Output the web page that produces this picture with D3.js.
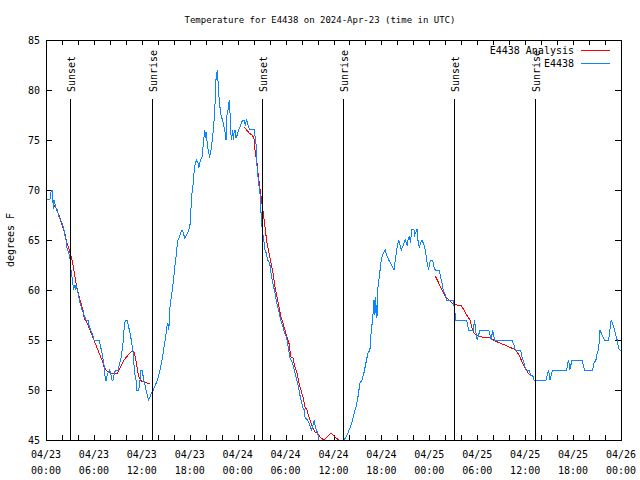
<!DOCTYPE html>
<html><head><meta charset="utf-8">
<script src="https://cdn.jsdelivr.net/npm/d3@7"></script>
<style>body{margin:0;background:#fff} svg{display:block}</style>
</head><body><svg id="c" width="640" height="480"></svg>
<script>
// hours since 2024-04-23 00:00 UTC, temperature in degrees F
const observed = [[0,69.1],[0.5,69.1],[0.66,70],[0.81,70],[0.91,68.1],[1.0,69],[1.25,68.2],[1.41,68],[1.67,67.2],[1.84,67],[2.09,66.5],[2.25,66],[2.34,65.5],[2.5,65],[2.67,64],[2.84,63.8],[3.0,63.2],[3.09,62.3],[3.17,61.7],[3.34,61],[3.42,60],[3.59,60.5],[3.67,60],[3.76,60.5],[3.92,60],[4.09,59.5],[4.17,59],[4.34,58.5],[4.51,58],[4.67,58],[4.76,57.5],[5.01,57],[5.26,57],[5.42,56.3],[5.6,56],[5.76,55.7],[5.92,55.3],[6.01,55],[6.67,55],[6.85,54.3],[7.01,53.7],[7.17,53],[7.35,52],[7.42,51],[7.57,51],[7.67,51.5],[7.93,52],[8.1,51.7],[8.26,51],[8.39,51],[8.6,51.8],[8.76,52],[9.01,52],[9.1,52.3],[9.35,53],[9.6,54.3],[9.77,56],[9.93,57],[10.18,57],[10.35,56.3],[10.52,55.7],[10.68,55],[10.85,54],[10.93,53.7],[11.02,52.5],[11.11,51.7],[11.27,51],[11.36,50],[11.61,50],[11.77,51],[11.86,52],[12.11,52],[12.18,51],[12.36,50.7],[12.52,50],[12.68,49.5],[12.86,49],[13.02,49.3],[13.18,49.7],[13.36,49.8],[13.52,50.2],[13.86,50.8],[14.02,51.2],[14.18,51.7],[14.36,52.3],[14.52,53],[14.69,53.8],[14.86,54.7],[15.02,55.5],[15.11,56.3],[15.27,56.7],[15.36,56],[15.44,56.8],[15.52,58.2],[15.69,59.3],[15.86,60.3],[15.94,60.8],[16.11,62.2],[16.28,63.3],[16.36,64],[16.53,65],[16.69,65.3],[16.86,65.7],[17.03,66],[17.19,65.7],[17.37,65.2],[17.62,65.5],[17.87,66],[18.03,66.5],[18.12,67.7],[18.28,69.7],[18.44,70.7],[18.53,71.7],[18.69,72.7],[18.87,73],[19.03,72.7],[19.12,72.2],[19.28,72.8],[19.53,73.3],[19.62,74],[19.87,76],[20.03,75.2],[20.12,75.8],[20.19,74.3],[20.37,74],[20.45,73.2],[20.62,73.7],[20.78,74.7],[20.95,76],[21.12,77.7],[21.2,79.3],[21.28,81],[21.45,82],[21.53,81],[21.62,79.7],[21.78,78.3],[21.95,77.3],[22.12,77],[22.29,76.3],[22.45,75.7],[22.54,75],[22.62,77.3],[22.79,78],[22.95,79],[23.04,77.7],[23.12,76.3],[23.2,75],[23.38,76],[23.45,75],[23.54,75.7],[23.7,76],[23.79,75.2],[23.95,75.5],[24.13,76],[24.29,76.3],[24.45,76.7],[24.63,77],[24.79,77],[24.95,76.5],[25.13,77],[25.29,76.5],[25.45,76.1],[26.04,76.1],[26.13,75.7],[26.29,74.7],[26.38,73],[26.45,72],[26.63,70.7],[26.79,69.7],[26.88,68.3],[26.96,67.3],[27.08,66],[27.26,65],[27.42,64],[27.58,63.7],[27.76,63],[28.01,62.7],[28.17,61.7],[28.33,61],[28.51,60.3],[28.67,59.7],[28.83,59],[29.01,58.3],[29.17,57.8],[29.33,57.2],[29.51,56.7],[29.67,56.3],[29.83,55.8],[30.01,55.5],[30.17,55],[30.34,54.3],[30.51,53.3],[30.67,53],[30.84,52.7],[31.01,52.3],[31.17,51.7],[31.34,51.2],[31.51,50.7],[31.68,50],[31.84,49.3],[32.01,48.7],[32.18,48.2],[32.34,48],[32.43,47.3],[32.59,47.1],[32.76,47],[32.93,46.7],[33.09,46.3],[33.27,46],[33.43,46.5],[33.59,47],[33.68,46.5],[33.84,46],[34.02,45.7],[34.18,45],[34.56,44.3],[35.06,43.8],[35.56,43.6],[36.06,43.8],[36.56,44.2],[37.06,44.7],[37.31,45],[37.56,45.3],[37.81,45.7],[38.06,46.2],[38.31,46.8],[38.56,47.6],[38.81,48.3],[39.06,49.3],[39.31,50.7],[39.56,51],[39.81,51.7],[40.06,52.7],[40.31,53.7],[40.56,54],[40.73,56],[40.9,57],[41.07,59],[41.19,57.5],[41.28,59.3],[41.35,58],[41.44,57.2],[41.53,59],[41.57,60.3],[41.73,61.3],[41.98,63],[42.23,63.7],[42.48,64],[42.66,63.5],[42.91,63],[43.16,62.7],[43.41,62.3],[43.57,62],[43.73,63],[43.91,64],[44.07,64.7],[44.16,65],[44.32,64.5],[44.48,64],[44.66,64.3],[44.82,64.7],[44.98,65],[45.23,64.5],[45.32,65],[45.49,65.3],[45.66,64.7],[45.74,65.7],[45.82,66.1],[46.07,66.1],[46.16,65.5],[46.32,65.8],[46.49,66.1],[46.57,65],[46.74,64.3],[46.91,64.7],[47.08,65],[47.33,64.5],[47.49,64],[47.67,63],[47.83,62.3],[47.92,62],[47.99,62.5],[48.16,63],[48.41,63],[48.58,62.3],[48.74,62],[49.24,62],[49.42,61.3],[49.58,60.7],[49.74,60],[49.92,59.7],[50.17,59],[50.99,59],[51.08,58.5],[51.33,57],[52.67,57],[52.92,56],[53.5,56],[53.67,57],[53.84,55.7],[54.0,55],[54.17,55.5],[54.34,56],[55.43,56],[55.59,55.5],[55.75,55],[55.93,56],[56.18,55],[58.34,55],[58.59,54.5],[58.76,54],[59.43,54],[59.6,53.3],[59.85,52.7],[60.1,52],[60.51,52],[60.68,51.5],[60.93,51.5],[61.1,51],[62.6,51],[62.76,51.5],[62.94,52],[63.1,51],[63.26,51.5],[63.44,52],[65.19,52],[65.35,52.7],[65.44,53],[65.6,52],[65.86,53],[67.11,53],[67.27,52.5],[67.44,52],[68.44,52],[68.61,52.7],[68.86,53],[69.02,53.7],[69.2,54],[69.36,56],[69.52,55.7],[69.77,55.3],[69.94,55],[70.45,55],[70.61,56],[70.77,57],[70.94,56.7],[71.11,56.2],[71.27,55.7],[71.52,55],[71.69,54.2],[71.86,54],[72.0,54]];

const analysis1 = [[0.75,69],[1.0,68.5],[1.25,68.2],[1.5,67.7],[1.75,67.2],[2.09,66.3],[2.34,65.7],[2.59,64.8],[2.84,64.2],[3.09,63.5],[3.34,62.7],[3.59,61.5],[3.84,60.3],[4.09,59.5],[4.34,58.8],[4.59,58],[4.85,57],[5.1,56.8],[5.35,56.3],[5.6,55.8],[5.85,55.3],[6.1,54.8],[6.35,54.3],[6.6,53.8],[6.85,53.3],[7.1,52.8],[7.26,52.3],[7.51,52],[7.76,51.8],[8.1,51.7],[8.51,51.7],[8.93,51.7],[9.35,52.3],[9.77,53],[10.18,53.4],[10.52,53.7],[10.85,53.9],[11.02,53.8],[11.18,53.3],[11.36,52.5],[11.52,51.7],[11.68,51.2],[11.93,50.9],[12.27,50.8],[12.68,50.7],[13.02,50.6]];
const analysis2 = [[24.79,76.3],[25.13,76],[25.45,75.7],[25.79,75.5],[26.04,75.2],[26.13,74.3],[26.29,73.3],[26.42,72.7],[26.54,71.7],[26.7,70.7],[26.86,69.7],[27.04,68.7],[27.21,67.7],[27.36,66.7],[27.51,65.7],[27.67,64.7],[27.92,63.7],[28.17,62.7],[28.42,61.7],[28.67,60.3],[28.92,59.3],[29.17,58.3],[29.42,57.3],[29.67,56.7],[29.92,56],[30.17,55.3],[30.42,54.7],[30.67,53.3],[30.92,53.2],[31.17,52.3],[31.43,51.7],[31.68,50.7],[31.93,50],[32.18,49.3],[32.43,48.3],[32.68,48],[32.93,47.3],[33.18,46.7],[33.43,46.2],[33.68,45.8],[33.97,45.7],[34.3,45.3],[34.81,45],[35.22,45.3],[35.72,45.7],[36.15,45.3],[36.65,45]];
const analysis3 = [[48.74,61.4],[49.17,60.7],[49.58,60],[49.99,59.4],[50.42,59],[50.83,58.7],[51.17,58.6],[51.5,58.5],[51.92,58.5],[52.33,58],[52.67,57.5],[52.92,57.2],[53.08,57],[53.25,56.5],[53.42,56],[53.59,55.7],[53.84,55.5],[54.17,55.4],[54.59,55.3],[55.0,55.3],[55.59,55.2],[56.25,54.9],[56.84,54.7],[57.43,54.5],[58.0,54.3],[58.59,54.1],[59.01,53.8],[59.34,53.3],[59.68,52.7],[60.01,52.2],[60.35,51.7],[60.6,51.5],[60.85,51.4]];

const sunHours = [3.04, 13.31, 27.08, 37.23, 51.13, 61.27];
const sunLabels = ["Sunset", "Sunrise", "Sunset", "Sunrise", "Sunset", "Sunrise"];
const yTicks = [45, 50, 55, 60, 65, 70, 75, 80, 85];
const xTickHours = [0, 6, 12, 18, 24, 30, 36, 42, 48, 54, 60, 66, 72];
const xMinorHours = d3.range(0, 73, 2);
const startTime = Date.UTC(2024, 3, 23, 0, 0);
const titleText = "Temperature for E4438 on 2024-Apr-23 (time in UTC)";
const yLabel = "degrees F";
const seriesNames = ["E4438 Analysis", "E4438"];
const seriesColors = ["#ff0000", "#0a84ff"];

const FONT = "'DejaVu Sans Mono', 'Liberation Mono', monospace";
const svg = d3.select("#c");
const L = 46, R = 621, T = 40, B = 440;
const x = d3.scaleLinear().domain([0, 72]).range([L, R]);
const y = d3.scaleLinear().domain([45, 85]).range([B, T]);

svg.append("rect").attr("width", 640).attr("height", 480).attr("fill", "#fff");

svg.append("defs").append("clipPath").attr("id", "clip")
  .append("rect").attr("x", L).attr("y", T).attr("width", R - L + 1).attr("height", B - T + 1);

// axes (ticks inward, mirrored)
function styleAxis(g) {
  g.selectAll(".domain").remove();
  g.selectAll("line").attr("stroke", "#000").attr("shape-rendering", "crispEdges");
  g.selectAll("text").remove();
}
svg.append("g").attr("transform", `translate(0,${B})`)
  .call(d3.axisBottom(x).tickValues(xMinorHours).tickSizeInner(-5).tickSizeOuter(0)).call(styleAxis);
svg.append("g").attr("transform", `translate(0,${T})`)
  .call(d3.axisTop(x).tickValues(xMinorHours).tickSizeInner(-5).tickSizeOuter(0)).call(styleAxis);
svg.append("g").attr("transform", `translate(${L},0)`)
  .call(d3.axisLeft(y).tickValues(yTicks).tickSizeInner(-6).tickSizeOuter(0)).call(styleAxis);
svg.append("g").attr("transform", `translate(${R},0)`)
  .call(d3.axisRight(y).tickValues(yTicks).tickSizeInner(-6).tickSizeOuter(0)).call(styleAxis);

// y tick labels
svg.append("g").selectAll("text").data(yTicks).join("text")
  .attr("x", L - 6).attr("y", d => y(d)).attr("dy", "0.35em")
  .attr("text-anchor", "end").attr("font-family", FONT).attr("font-size", 10).text(d => d);

// x tick labels (two lines)
const fmtDay = d3.utcFormat("%m/%d"), fmtHour = d3.utcFormat("%H:%M");
const xl = svg.append("g").selectAll("g").data(xTickHours).join("g");
xl.append("text").attr("x", d => x(d)).attr("y", 458).attr("text-anchor", "middle")
  .attr("font-family", FONT).attr("font-size", 10).text(d => fmtDay(new Date(startTime + d * 3600e3)));
xl.append("text").attr("x", d => x(d)).attr("y", 474).attr("text-anchor", "middle")
  .attr("font-family", FONT).attr("font-size", 10).text(d => fmtHour(new Date(startTime + d * 3600e3)));

// title and axis label
svg.append("text").attr("x", 320).attr("y", 23).attr("text-anchor", "middle")
  .attr("font-family", FONT).attr("font-size", 9).text(titleText);
svg.append("text").attr("transform", `translate(14,${(T + B) / 2}) rotate(-90)`)
  .attr("text-anchor", "middle").attr("font-family", FONT).attr("font-size", 10).text(yLabel);

// data lines
const line = d3.line().x(d => x(d[0])).y(d => y(d[1]));
const plot = svg.append("g").attr("clip-path", "url(#clip)");
[analysis1, analysis2, analysis3].forEach(seg => {
  plot.append("path").datum(seg).attr("d", line).attr("fill", "none")
    .attr("stroke", seriesColors[0]).attr("stroke-width", 1).attr("shape-rendering", "crispEdges");
});
plot.append("path").datum(observed).attr("d", line).attr("fill", "none")
  .attr("stroke", seriesColors[1]).attr("stroke-width", 1).attr("shape-rendering", "crispEdges");

// sunrise / sunset markers
const sun = svg.append("g").selectAll("g").data(sunHours).join("g");
sun.append("line").attr("x1", d => Math.round(x(d)) + 0.5).attr("x2", d => Math.round(x(d)) + 0.5)
  .attr("y1", 99).attr("y2", B).attr("stroke", "#000").attr("stroke-width", 1);
sun.append("text").attr("transform", d => `translate(${Math.round(x(d)) + 5},92) rotate(-90)`)
  .attr("font-family", FONT).attr("font-size", 10).text((d, i) => sunLabels[i]);

// legend
const leg = svg.append("g").selectAll("g").data(seriesNames).join("g")
  .attr("transform", (d, i) => `translate(0,${50 + i * 13})`);
leg.append("text").attr("x", 574).attr("y", 0).attr("dy", "0.35em").attr("text-anchor", "end")
  .attr("font-family", FONT).attr("font-size", 10).text(d => d);
leg.append("line").attr("x1", 581).attr("x2", 610).attr("y1", 0.5).attr("y2", 0.5)
  .attr("stroke", (d, i) => seriesColors[i]).attr("stroke-width", 1).attr("shape-rendering", "crispEdges");

// frame
svg.append("rect").attr("x", L + 0.5).attr("y", T + 0.5).attr("width", R - L).attr("height", B - T)
  .attr("fill", "none").attr("stroke", "#000").attr("stroke-width", 1).attr("shape-rendering", "crispEdges");
</script>
</body></html>
